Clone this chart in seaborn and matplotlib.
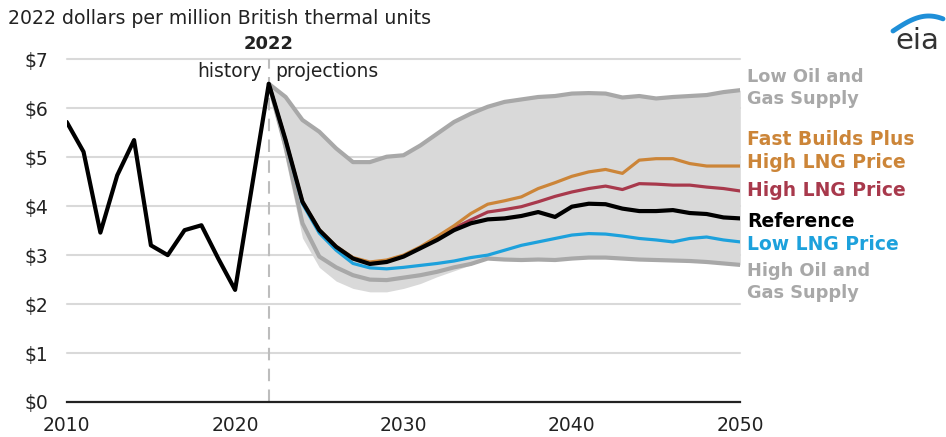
import numpy as np
import pandas as pd
import matplotlib
matplotlib.use("Agg")
import matplotlib.pyplot as plt
import seaborn as sns
from matplotlib.lines import Line2D

# ---------------- data ----------------
hist_years = list(range(2010, 2022))
hist_values = [5.72, 5.11, 3.46, 4.63, 5.35, 3.20, 3.00, 3.51, 3.61, 2.93, 2.29, 4.40]

proj_years = list(range(2022, 2051))
reference = [6.50, 5.35, 4.09, 3.51, 3.17, 2.93, 2.82, 2.86, 2.97, 3.14, 3.31, 3.51, 3.65, 3.73, 3.75,
             3.80, 3.88, 3.78, 3.99, 4.05, 4.04, 3.95, 3.90, 3.90, 3.92, 3.86, 3.84, 3.77, 3.75]
fast_builds_high_lng = [6.50, 5.35, 4.10, 3.52, 3.18, 2.95, 2.86, 2.90, 3.00, 3.17, 3.38, 3.60, 3.85, 4.04, 4.11,
                        4.19, 4.36, 4.48, 4.61, 4.70, 4.75, 4.67, 4.94, 4.97, 4.97, 4.87, 4.82, 4.82, 4.82]
high_lng = [6.50, 5.35, 4.09, 3.51, 3.17, 2.94, 2.84, 2.88, 2.98, 3.15, 3.34, 3.55, 3.72, 3.88, 3.93,
            3.99, 4.09, 4.20, 4.29, 4.36, 4.41, 4.34, 4.46, 4.45, 4.43, 4.43, 4.39, 4.36, 4.31]
low_lng = [6.50, 5.33, 4.05, 3.45, 3.10, 2.83, 2.74, 2.72, 2.75, 2.79, 2.83, 2.88, 2.95, 3.00, 3.10,
           3.20, 3.27, 3.34, 3.41, 3.44, 3.43, 3.39, 3.34, 3.31, 3.27, 3.34, 3.37, 3.31, 3.27]
low_oil_gas = [6.50, 6.23, 5.76, 5.52, 5.18, 4.90, 4.90, 5.01, 5.04, 5.24, 5.48, 5.72, 5.89, 6.03, 6.13,
               6.18, 6.23, 6.25, 6.30, 6.31, 6.30, 6.22, 6.25, 6.20, 6.23, 6.25, 6.27, 6.33, 6.37]
high_oil_gas = [6.50, 5.21, 3.65, 2.97, 2.75, 2.59, 2.50, 2.49, 2.54, 2.59, 2.66, 2.75, 2.82, 2.93, 2.91,
                2.90, 2.91, 2.90, 2.93, 2.95, 2.95, 2.93, 2.91, 2.90, 2.89, 2.88, 2.86, 2.83, 2.80]
range_low = [6.50, 4.95, 3.35, 2.75, 2.47, 2.32, 2.25, 2.25, 2.32, 2.42, 2.56, 2.68, 2.80, 2.93, 2.91,
             2.90, 2.91, 2.90, 2.93, 2.95, 2.95, 2.93, 2.91, 2.90, 2.89, 2.88, 2.86, 2.83, 2.80]
range_high = low_oil_gas

y_ticks = [0, 1, 2, 3, 4, 5, 6, 7]
y_tick_labels = ["$0", "$1", "$2", "$3", "$4", "$5", "$6", "$7"]
x_ticks = [2010, 2020, 2030, 2040, 2050]

# ---------------- styles ----------------
GRAY = "#a8a8a8"
ORANGE = "#cc8538"
RED = "#a8394c"
BLUE = "#1da1dc"
BLACK = "#000000"
TXT = "#222222"

series = {
    "Low Oil and Gas Supply": (low_oil_gas, GRAY),
    "High Oil and Gas Supply": (high_oil_gas, GRAY),
    "Low LNG Price": (low_lng, BLUE),
    "High LNG Price": (high_lng, RED),
    "Fast Builds Plus High LNG Price": (fast_builds_high_lng, ORANGE),
}

rows = []
for name, (vals, _) in series.items():
    for yr, v in zip(proj_years, vals):
        rows.append({"year": yr, "value": v, "case": name})
df = pd.DataFrame(rows)

ref_df = pd.DataFrame({"year": hist_years + proj_years, "value": hist_values + reference})

sns.set_style("white")
plt.rcParams["font.family"] = ["DejaVu Sans"]

fig = plt.figure(figsize=(9.46, 4.37), dpi=100)
ax = fig.add_axes([66.7 / 946, 1 - 402 / 437, (740.3 - 66.7) / 946, (402 - 59.3) / 437])

ax.fill_between(proj_years, range_low, range_high, color="#d9d9d9", lw=0, zorder=1)

widths = {"Low Oil and Gas Supply": 3.0, "High Oil and Gas Supply": 3.0,
          "Low LNG Price": 2.3, "High LNG Price": 2.3, "Fast Builds Plus High LNG Price": 2.3}
sns.lineplot(data=df, x="year", y="value", hue="case", size="case",
             palette={k: c for k, (v, c) in series.items()},
             sizes=widths, hue_order=list(series.keys()),
             ax=ax, legend=False, zorder=3)
sns.lineplot(data=ref_df, x="year", y="value", color=BLACK, lw=3.0, ax=ax, zorder=4)

# grid lines
for t in y_ticks[1:]:
    ax.axhline(t, color="#d9d9d9", lw=1.5, zorder=0, clip_on=False)

# 2022 divider
ax.axvline(2022, ymin=0, ymax=1, color="#bdbdbd", lw=1.5, ls=(0, (6, 4)), zorder=2, clip_on=False)

ax.set_xlim(2010, 2050)
ax.set_ylim(0, 7)
ax.set_xticks(x_ticks)
ax.set_xticklabels([str(x) for x in x_ticks], fontsize=13.5, color=TXT)
ax.set_yticks(y_ticks)
ax.set_yticklabels(y_tick_labels, fontsize=13.5, color=TXT)
ax.set_xlabel("")
ax.set_ylabel("")
for s in ["top", "right", "left"]:
    ax.spines[s].set_visible(False)
ax.spines["bottom"].set_color(TXT)
ax.spines["bottom"].set_linewidth(1.6)
ax.tick_params(axis="x", direction="out", length=5, width=1.5, color=TXT, pad=5)
ax.tick_params(axis="y", length=0, pad=13.5)

# annotations
ax.text(2022, 7.31, "2022", ha="center", va="center", fontsize=13, fontweight="bold", color=TXT,
        clip_on=False)
ax.text(2021.6, 6.75, "history", ha="right", va="center", fontsize=13.5, color=TXT, clip_on=False)
ax.text(2022.4, 6.75, "projections", ha="left", va="center", fontsize=13.5, color=TXT, clip_on=False)

lab_x = 2050.4
label_specs = [
    (6.41, "Low Oil and\nGas Supply", GRAY, 12.8, 1.25),
    (5.12, "Fast Builds Plus\nHigh LNG Price", ORANGE, 13.5, 1.28),
    (4.33, "High LNG Price", RED, 13.5, 1.0),
    (3.69, "Reference", BLACK, 13.5, 1.0),
    (3.22, "Low LNG Price", BLUE, 13.5, 1.0),
    (2.45, "High Oil and\nGas Supply", GRAY, 12.8, 1.25),
]
for yv, txt, col, fs, lsp in label_specs:
    ax.text(lab_x, yv, txt, ha="left", va="center", fontsize=fs, fontweight="bold",
            color=col, linespacing=lsp, clip_on=False)

fig.text(8 / 946, 1 - 18 / 437, "2022 dollars per million British thermal units",
         ha="left", va="center", fontsize=13.6, color=TXT)

# eia logo
fig.text(917 / 946, 1 - 41 / 437, "eia", ha="center", va="center", fontsize=21, color="#333333")
t = np.linspace(0, 1, 40)
px = 893 + 50 * t
py = 31 - 15 * np.sin(np.pi * t * 0.7)
fig.add_artist(Line2D(px / 946, 1 - py / 437, transform=fig.transFigure, color="#1f8fd8", lw=3.5,
                      solid_capstyle="round"))

fig.savefig("out.png", dpi=100)
